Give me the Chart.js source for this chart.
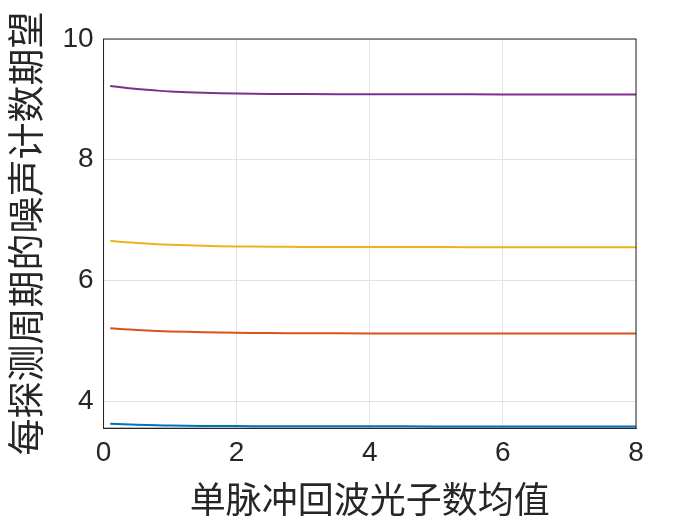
<!DOCTYPE html>
<html><head><meta charset="utf-8">
<script src="https://cdn.jsdelivr.net/npm/chart.js@4"></script>
<style>body{margin:0;background:#fff}</style></head>
<body><canvas id="c" width="700" height="525"></canvas>
<script>
const xs = [0.1,0.3,0.5,0.8,1,1.5,2,2.5,3,4,5,6,7,8];
const s1 = [3.625,3.615,3.607,3.598,3.594,3.588,3.585,3.583,3.582,3.581,3.58,3.58,3.58,3.58];
const s2 = [5.205,5.19,5.178,5.162,5.154,5.14,5.132,5.127,5.124,5.121,5.12,5.12,5.12,5.12];
const s3 = [6.655,6.635,6.62,6.6,6.59,6.572,6.563,6.558,6.555,6.552,6.551,6.55,6.55,6.55];
const s4 = [9.22,9.195,9.172,9.145,9.13,9.108,9.097,9.09,9.087,9.084,9.083,9.082,9.082,9.082];
const colors = ['#0072BD','#D95319','#EDB120','#7E2F8E'];
const xTicks=[0,2,4,6,8], yTicks=[4,6,8,10];
const mk=(d,i)=>({data:xs.map((x,j)=>({x,y:d[j]})),borderColor:colors[i],borderWidth:2,pointRadius:0,tension:0.3,fill:false});
new Chart(document.getElementById('c'),{type:'line',
data:{datasets:[mk(s1,0),mk(s2,1),mk(s3,2),mk(s4,3)]},
options:{responsive:false,animation:false,
layout:{padding:{left:0,right:64,top:39,bottom:0}},
plugins:{legend:{display:false},tooltip:{enabled:false}},
scales:{
x:{type:'linear',min:0,max:8,afterBuildTicks:a=>{a.ticks=xTicks.map(v=>({value:v}))},
 grid:{color:'#e3e3e3',drawTicks:false},border:{color:'#262626'},
 ticks:{color:'#262626',font:{size:28,family:'Arial'},padding:8},
 title:{display:true,text:'单脉冲回波光子数均值',color:'#262626',font:{size:36,family:'Noto Sans CJK SC'},padding:{top:0}}},
y:{min:3.55,max:10,afterBuildTicks:a=>{a.ticks=yTicks.map(v=>({value:v}))},
 grid:{color:'#e3e3e3',drawTicks:false},border:{color:'#262626'},
 ticks:{color:'#262626',font:{size:28,family:'Arial'},padding:10},
 title:{display:true,text:'每探测周期的噪声计数期望',color:'#262626',font:{size:37,family:'Noto Sans CJK SC'},padding:{bottom:4}}}
}},
plugins:[{id:'box',afterDraw(c){const a=c.chartArea,x=c.ctx;x.save();x.strokeStyle='#262626';x.lineWidth=1;x.strokeRect(a.left,a.top,a.right-a.left,a.bottom-a.top);x.restore();}}]
});
</script></body></html>
